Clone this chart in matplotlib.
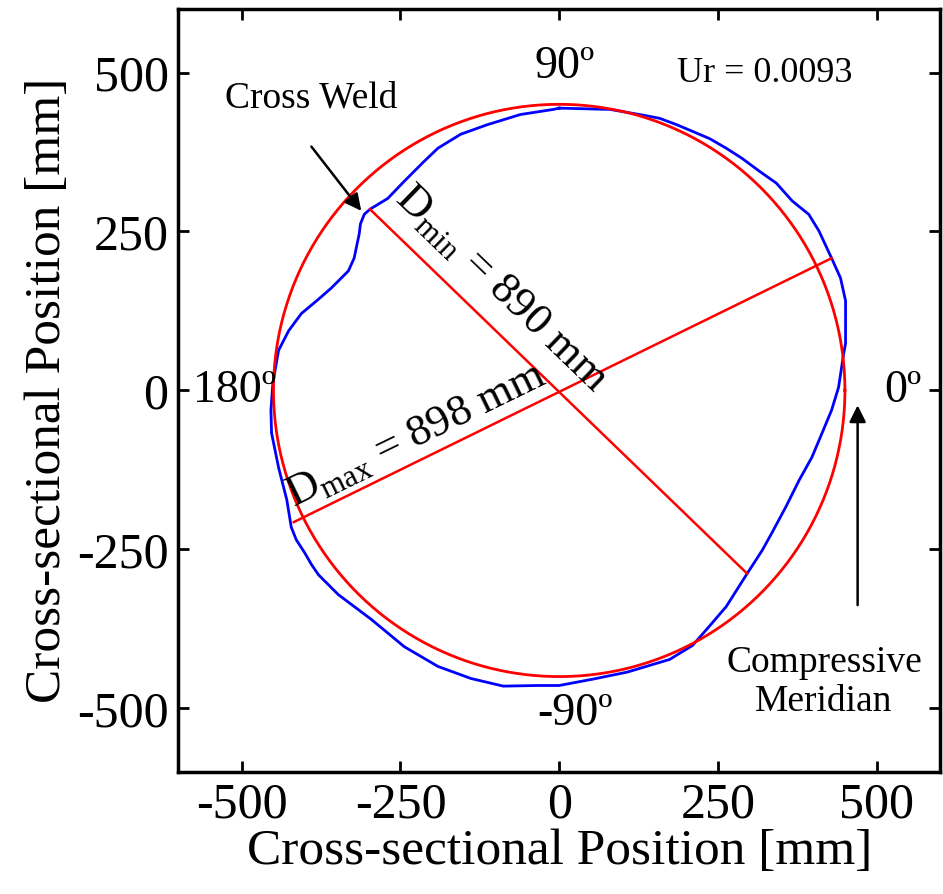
import numpy as np
import matplotlib
matplotlib.use('Agg')
import matplotlib.pyplot as plt

plt.rcParams['font.family'] = ['Liberation Serif', 'DejaVu Serif']
plt.rcParams['mathtext.fontset'] = 'custom'
plt.rcParams['mathtext.rm'] = 'Liberation Serif'

# measured cross-section (blue), mm
meas_x = [0, 80, 132, 158, 185, 237, 263, 288, 315, 342, 367, 393, 409, 429, 443, 451,
          451, 448, 440, 429, 414, 398, 378, 357, 335, 320, 296, 263, 232, 210, 174, 107,
          53, 0, -34, -88, -139, -191, -244, -296, -348, -379, -390, -401, -414, -422,
          -429, -442, -453, -454, -451, -442, -426, -406, -382, -359, -332, -323, -315,
          -313, -307, -298, -270, -244, -213, -191, -155, -113, -61, -9, 0]
meas_y = [444, 442, 433, 428, 418, 396, 381, 365, 345, 326, 298, 277, 251, 208, 177, 141,
          74, 58, 5, -31, -67, -105, -141, -183, -224, -251, -288, -340, -376, -401, -423,
          -443, -454, -464, -464, -465, -453, -434, -403, -360, -321, -290, -274, -255,
          -235, -215, -172, -121, -67, -31, 11, 63, 94, 121, 141, 161, 188, 208, 246, 262,
          277, 285, 302, 329, 360, 381, 403, 418, 434, 442, 444]

# nominal circle radius, mm
r_nom = 450

# diameter lines (end points)
dmax_x = [-418, 429]
dmax_y = [-207, 208]
dmin_x = [-298, 296]
dmin_y = [285, -288]

fig = plt.figure(figsize=(9.43, 8.94), dpi=100)
ax = fig.add_axes([0.189, 0.1365, 0.808, 0.8535])

t = np.linspace(0, 2 * np.pi, 400)
ax.plot(meas_x, meas_y, color='#0000ff', lw=2.0)
ax.plot(r_nom * np.cos(t), r_nom * np.sin(t), color='#ff0000', lw=2.0)
ax.plot(dmax_x, dmax_y, color='#ff0000', lw=1.8)
ax.plot(dmin_x, dmin_y, color='#ff0000', lw=1.8)

ax.set_xlim(-600, 600)
ax.set_ylim(-600, 600)
ticks = [-500, -250, 0, 250, 500]
ax.set_xticks(ticks)
ax.set_yticks(ticks)
ax.set_xticklabels([str(v) for v in ticks])
ax.set_yticklabels([str(v) for v in ticks])
ax.tick_params(direction='in', length=8, width=2, top=True, right=True,
               labelsize=36, pad=7)
for s in ax.spines.values():
    s.set_linewidth(2.5)

ax.set_xlabel('Cross-sectional Position [mm]', fontsize=37, labelpad=0)
ax.set_ylabel('Cross-sectional Position [mm]', fontsize=37, labelpad=4)

# angle labels
ax.text(9, 509, '90º', fontsize=33, ha='center', va='center')
ax.text(-512, 0, '180º', fontsize=33, ha='center', va='center')
ax.text(542, 0, '0º', fontsize=33, ha='center', va='center')
ax.text(25, -509, '-90º', fontsize=33, ha='center', va='center')

ax.text(323, 498, 'Ur = 0.0093', fontsize=26, ha='center', va='center')
ax.text(-390, 459, 'Cross Weld', fontsize=27, ha='center', va='center')
ax.text(417, -459, 'Compressive\nMeridian', fontsize=27, ha='center', va='center',
        linespacing=1.15)

ax.text(-225, -72, r'D$_{\mathrm{max}}$ = 898 mm', fontsize=32, rotation=26,
        ha='center', va='center', rotation_mode='anchor')
ax.text(-92, 160, r'D$_{\mathrm{min}}$ = 890 mm', fontsize=32, rotation=-44,
        ha='center', va='center', rotation_mode='anchor')

ax.annotate('', xy=(-309, 279), xytext=(-393, 387),
            arrowprops=dict(arrowstyle='-|>', color='black', lw=1.8, mutation_scale=25))
ax.annotate('', xy=(470, -19), xytext=(470, -342),
            arrowprops=dict(arrowstyle='-|>', color='black', lw=1.8, mutation_scale=25))

plt.savefig('out.png', dpi=100)
plt.close()
